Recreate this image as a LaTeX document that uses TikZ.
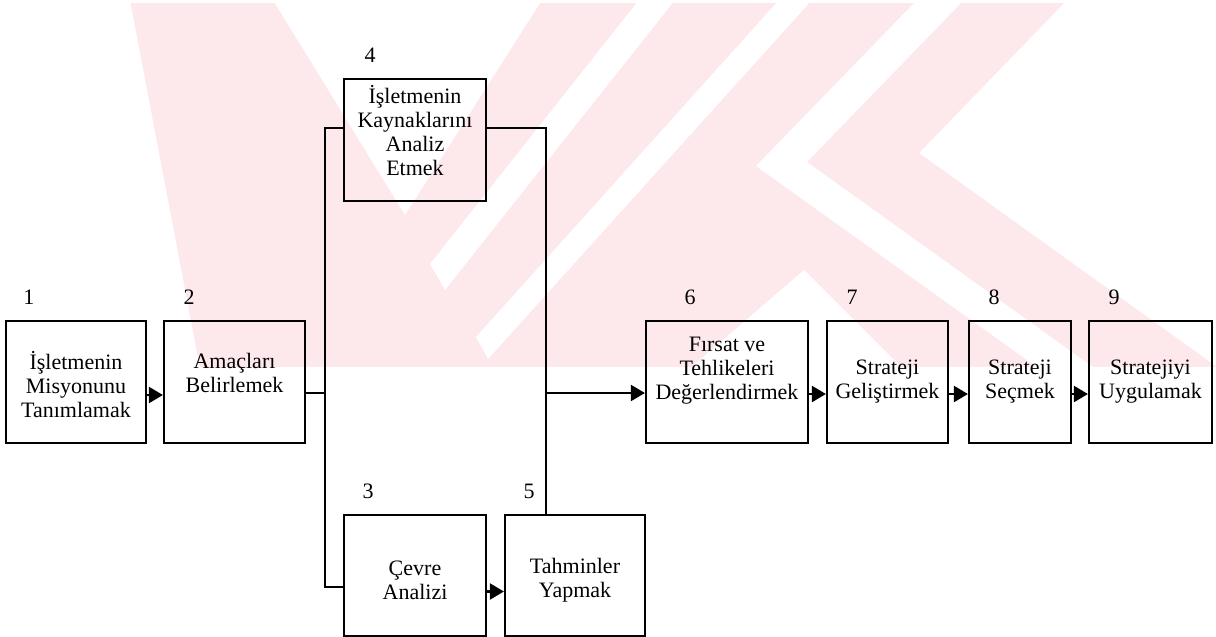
\documentclass[tikz,border=0pt]{standalone}
\usepackage{fontspec}
\setmainfont{Liberation Serif}
\usetikzlibrary{arrows.meta}
\definecolor{wm}{RGB}{253,232,236}
\begin{document}
\begin{tikzpicture}[x=0.5pt,y=-0.5pt,
  box/.style 2 args={draw,line width=1.1pt,inner sep=0pt,minimum width=#1*0.5pt,minimum height=#2*0.5pt},
  txt/.style={align=center,inner sep=0pt,font=\fontsize{11}{12}\selectfont},
  num/.style={inner sep=0pt,font=\fontsize{11}{12}\selectfont},
  conn/.style={line width=1.1pt},
  arr/.style={line width=1.1pt,-{Triangle[length=7pt,width=8pt]}}]
\useasboundingbox (0,0) rectangle (1216,637);
% watermark
\begin{scope}
\clip (0,3) rectangle (1216,366);
\fill[wm] (130,0) -- (1067,0) -- (919,153) -- (1270,405) -- (207,405) -- cycle;
\fill[white] (273,0) -- (542,0) -- (405,215) -- cycle;
\fill[white] (639,0) -- (675,0) -- (445,290) -- (430,264) -- cycle;
\fill[white] (779,0) -- (812,0) -- (488,359) -- (476,337) -- cycle;
\fill[white] (917,0) -- (964,0) -- (807,162) -- (1270,494) -- (1270,534) -- (756,166) -- cycle;
\fill[white] (804,270) -- (688,370) -- (904,370) -- cycle;
\end{scope}
% boxes
\node[box={140}{122}] (b1) at (76,382) {};
\node[box={141}{122}] (b2) at (234.5,382) {};
\node[box={142}{122}] (b4) at (415,140) {};
\node[box={142}{121}] (b3) at (415,575.5) {};
\node[box={140}{121}] (b5) at (575,575.5) {};
\node[box={162}{122}] (b6) at (727,382) {};
\node[box={121}{122}] (b7) at (887.5,382) {};
\node[box={102}{122}] (b8) at (1020,382) {};
\node[box={123}{122}] (b9) at (1150.5,382) {};
% texts
\node[txt] (t1) at (76,385) {İşletmenin\\Misyonunu\\Tanımlamak};
\node[txt] (t2) at (234.5,373) {Amaçları\\Belirlemek};
\node[txt] (t4) at (415,131) {İşletmenin\\Kaynaklarını\\Analiz\\Etmek};
\node[txt] (t3) at (415,580) {Çevre\\Analizi};
\node[txt] (t5) at (575,580) {Tahminler\\Yapmak};
\node[txt] (t6) at (727,371) {Fırsat ve\\Tehlikeleri\\Değerlendirmek};
\node[txt] (t7) at (887.5,382) {Strateji\\Geliştirmek};
\node[txt] (t8) at (1020,382) {Strateji\\Seçmek};
\node[txt] (t9) at (1150.5,382) {Stratejiyi\\Uygulamak};
% numbers
\node[num] (n1) at (29,297) {1};
\node[num] (n2) at (189,297) {2};
\node[num] (n4) at (370,55) {4};
\node[num] (n3) at (368,491) {3};
\node[num] (n5) at (529,491) {5};
\node[num] (n6) at (690,297) {6};
\node[num] (n7) at (852,297) {7};
\node[num] (n8) at (994,297) {8};
\node[num] (n9) at (1114,297) {9};
% junction coordinates
\coordinate (lt) at (325,128);
\coordinate (lb) at (325,587);
\coordinate (jl) at (325,393);
\coordinate (rt) at (546,128);
\coordinate (rj) at (546,393);
% connectors
\draw[arr] ([yshift=-6.5pt]b1.east) -- ([yshift=-6.5pt]b2.west);
\draw[conn] (b2.east |- jl) -- (jl);
\draw[conn] (b4.west |- lt) -- (lt) -- (lb) -- (b3.west |- lb);
\draw[conn] (b4.east |- rt) -- (rt) -- (b5.north -| rt);
\draw[arr] (rj) -- (b6.west |- rj);
\draw[arr] ([yshift=-8pt]b3.east) -- ([yshift=-8pt]b5.west);
\draw[arr] ([yshift=-6pt]b6.east) -- ([yshift=-6pt]b7.west);
\draw[arr] ([yshift=-6pt]b7.east) -- ([yshift=-6pt]b8.west);
\draw[arr] ([yshift=-6pt]b8.east) -- ([yshift=-6pt]b9.west);
\end{tikzpicture}
\end{document}
